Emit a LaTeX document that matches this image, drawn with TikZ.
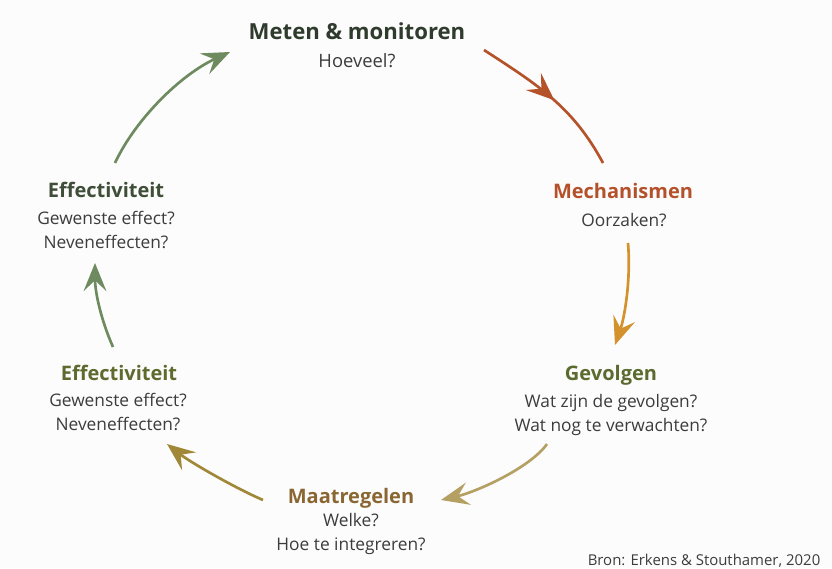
\documentclass[tikz,border=0pt]{standalone}
\usepackage{fontspec}
\setmainfont{Open Sans}
\usetikzlibrary{arrows.meta,decorations.markings}

\definecolor{bgpaper}{HTML}{FDFCFC}
\definecolor{qgray}{HTML}{3C3C3C}
\definecolor{metenc}{HTML}{2F3B2C}
\definecolor{mechc}{HTML}{B4512A}
\definecolor{gevc}{HTML}{5B6B2F}
\definecolor{maatc}{HTML}{8A6632}
\definecolor{effBc}{HTML}{5F6A2E}
\definecolor{effAc}{HTML}{3E4E38}
\definecolor{arrowRed}{HTML}{B4522A}
\definecolor{arrowGold}{HTML}{D4922C}
\definecolor{arrowTan}{HTML}{B5A064}
\definecolor{arrowOlive}{HTML}{A08838}
\definecolor{arrowGreen}{HTML}{6E8B60}

\tikzset{
  cycletitle/.style={anchor=base,font=\fontsize{15}{18}\selectfont\bfseries},
  cyclequestion/.style={anchor=base,align=center,text=qgray,font=\fontsize{13}{18}\selectfont},
  cyclehead/.style={-{Stealth[length=21pt,width=17pt,inset=8pt]}},
  cyclearrow/.style={line width=2pt,cyclehead},
}

\begin{document}
\begin{tikzpicture}

  % Canvas in pixel units (832 x 568), y pointing down
  \begin{scope}[x=0.75pt,y=-0.75pt]
    \fill[bgpaper] (0,0) rectangle (832,568);
    \useasboundingbox (0,0) rectangle (832,568);

    %==========================
    % Stages of the cycle
    % (question nodes sit on the baseline of their last line)
    %==========================
    \node[cycletitle,text=metenc,font=\fontsize{16.6}{19}\selectfont\bfseries] (meten) at (357,39) {Meten \& monitoren};
    \node[cyclequestion,font=\fontsize{13.8}{18}\selectfont] (meten-q) at (357,67) {Hoeveel?};

    \node[cycletitle,text=mechc] (mech) at (623,198) {Mechanismen};
    \node[cyclequestion] (mech-q) at (624,226) {Oorzaken?};

    \node[cycletitle,text=gevc] (gev) at (611,380) {Gevolgen};
    \node[cyclequestion] (gev-q) at (611,431) {Wat zijn de gevolgen?\\Wat nog te verwachten?};

    \node[cycletitle,text=maatc] (maat) at (351,503) {Maatregelen};
    \node[cyclequestion] (maat-q) at (351,550) {Welke?\\Hoe te integreren?};

    \node[cycletitle,text=effBc] (effB) at (119,380) {Effectiviteit};
    \node[cyclequestion] (effB-q) at (118,430) {Gewenste effect?\\Neveneffecten?};

    \node[cycletitle,text=effAc] (effA) at (106,197) {Effectiviteit};
    \node[cyclequestion] (effA-q) at (106,248) {Gewenste effect?\\Neveneffecten?};

    %==========================
    % Arrow ends
    %==========================
    \coordinate (a1s) at (484,50);  \coordinate (a1e) at (603,163);
    \coordinate (a2s) at (628,243); \coordinate (a2e) at (615,345);
    \coordinate (a3s) at (547,444); \coordinate (a3e) at (441,500);
    \coordinate (a4s) at (263,500); \coordinate (a4e) at (167,444);
    \coordinate (a5s) at (113,347); \coordinate (a5e) at (95,263);
    \coordinate (a6s) at (115,163); \coordinate (a6e) at (230,52);

    % Meten -> Mechanismen (tip half way)
    \draw[line width=2pt,arrowRed,postaction={decorate},
          decoration={markings,mark=at position 0.52 with {\arrow{Stealth[length=21pt,width=17pt,inset=8pt]}}}]
      (a1s) .. controls (538,85) and (573,107) .. (a1e);

    % Mechanismen -> Gevolgen
    \draw[cyclearrow,arrowGold] (a2s) .. controls (631,278) and (625,316) .. (a2e);

    % Gevolgen -> Maatregelen
    \draw[cyclearrow,arrowTan] (a3s) .. controls (530,468) and (476,492) .. (a3e);

    % Maatregelen -> Effectiviteit
    \draw[cyclearrow,arrowOlive] (a4s) .. controls (235,488) and (190,462) .. (a4e);

    % Effectiviteit -> Effectiviteit
    \draw[cyclearrow,arrowGreen] (a5s) .. controls (101,320) and (95,292) .. (a5e);

    % Effectiviteit -> Meten
    \draw[cyclearrow,arrowGreen] (a6s) .. controls (135,120) and (180,75) .. (a6e);

    % Source
    \node[anchor=base east,text=qgray,font=\fontsize{11.2}{13}\selectfont] (bron) at (825,565) {Bron: Erkens \& Stouthamer, 2020};
  \end{scope}

\end{tikzpicture}
\end{document}
